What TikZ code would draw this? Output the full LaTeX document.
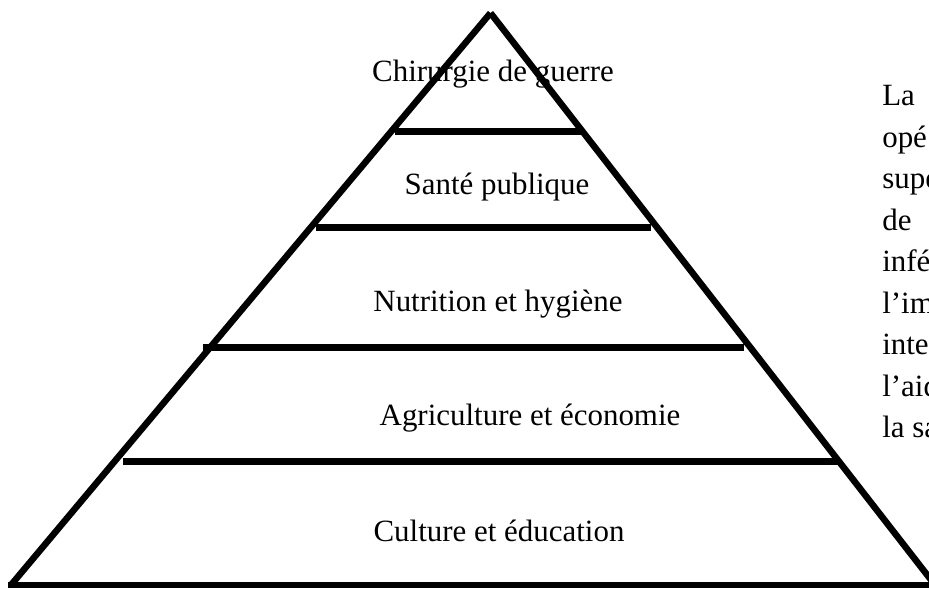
\documentclass[tikz,border=0pt]{standalone}
\usepackage{fontspec}
\setmainfont{Liberation Serif}
\usepackage{tikz}
\usetikzlibrary{positioning}
\tikzstyle{label}=[inner sep=0pt, anchor=base, font=\fontsize{22}{29.5}\selectfont]
\tikzstyle{side}=[line width=6.5*0.025cm, line cap=butt]
\tikzstyle{bar}=[line width=7*0.025cm, line cap=butt]

\begin{document}
\begin{tikzpicture}[x=0.025cm, y=-0.025cm]
      \useasboundingbox (0,0) rectangle (929,590);
      \clip (0,0) rectangle (929,590);
      % levels of the pyramid
      \node (Chirurgie) [label] at (493,82) {Chirurgie de guerre};
      \node (Sante) [label] at (497,195) {Santé publique};
      \node (Nutrition) [label] at (498,312) {Nutrition et hygiène};
      \node (Agriculture) [label] at (530,426) {Agriculture et économie};
      \node (Culture) [label] at (499,541) {Culture et éducation};
      % text on the right
      \foreach \w [count=\i from 0] in {La,opé,supe,de,infé,l’im,inte,l’aid,la sa}
        \node (Text\i) [label, anchor=base west] at (882,106+41.5*\i) {\w};
      % pyramid
      \coordinate (Apex) at (490.5,13);
      \coordinate (Left) at (11,585);
      \coordinate (Right) at (935,585);
      \draw[side] (Left) -- (Apex);
      \draw[side] (Apex) -- (Right);
      \draw[side] (8,585) -- (940,585);
      \draw[bar] (395,132) -- (584,132);
      \draw[bar] (316,228) -- (651,228);
      \draw[bar] (203,348) -- (744,348);
      \draw[bar] (123,462) -- (840,462);
    \end{tikzpicture}
\end{document}
